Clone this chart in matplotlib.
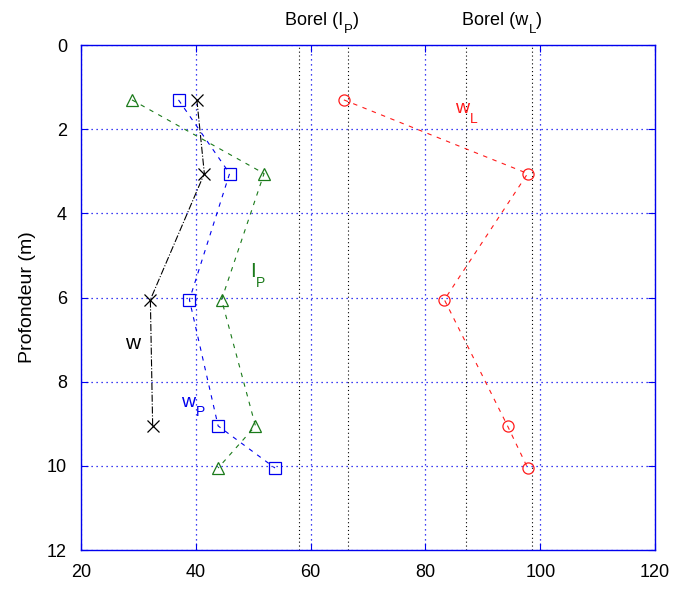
import numpy as np
import matplotlib.pyplot as plt

plt.rcParams['font.family'] = ['Liberation Sans', 'DejaVu Sans']

# profondeurs des prélèvements (m)
prof = [1.3, 3.05, 6.05, 9.05, 10.05]
prof_w = [1.3, 3.05, 6.05, 9.05]

w = [40.2, 41.5, 32.1, 32.5]            # teneur en eau naturelle
wP = [37.0, 45.9, 38.9, 43.9, 53.8]     # limite de plasticité
IP = [28.9, 51.9, 44.5, 50.4, 43.9]     # indice de plasticité
wL = [65.8, 97.8, 83.3, 94.3, 97.8]     # limite de liquidité

# fourchettes de Borel
borel_IP = [58.0, 66.6]
borel_wL = [87.1, 98.5]

bleu = '#0000ee'
vert = '#1a7a1a'
rouge = '#ff1a1a'
DPI = 100

fig = plt.figure(figsize=(6.74, 5.95), dpi=DPI)
ax = fig.add_axes([0.120, 0.0756, 0.852, 0.8484])
renderer = fig.canvas.get_renderer()


def texte_indice(x, y, base, sub, suite='', taille=13, taille_sub=9,
                 chute=6.0, couleur='black', tr=None):
    # texte avec un indice bien descendu, à la manière des vieux tracés
    if tr is None:
        tr = ax.transData
    t = ax.text(x, y, base, transform=tr, fontsize=taille, color=couleur,
                ha='left', va='baseline')
    larg = t.get_window_extent(renderer).width * 72 / DPI
    s = ax.annotate(sub, xy=(x, y), xycoords=tr, xytext=(larg + 0.5, -chute),
                    textcoords='offset points', fontsize=taille_sub,
                    color=couleur, ha='left', va='baseline')
    if suite:
        larg_s = s.get_window_extent(renderer).width * 72 / DPI
        ax.annotate(suite, xy=(x, y), xycoords=tr,
                    xytext=(larg + 0.5 + larg_s, 0), textcoords='offset points',
                    fontsize=taille, color=couleur, ha='left', va='baseline')


for xb in borel_IP + borel_wL:
    ax.axvline(xb, color='black', linestyle=(0, (1, 2.5)), linewidth=0.8, zorder=1)

ax.plot(w, prof_w, color='black', linestyle='-.', linewidth=0.8, marker='x',
        markersize=8, markeredgewidth=0.9, zorder=3)
ax.plot(wP, prof, color=bleu, linestyle=(0, (4, 5)), linewidth=0.8, marker='s',
        markersize=9, markerfacecolor='none', markeredgewidth=0.9, zorder=3)
ax.plot(IP, prof, color=vert, linestyle=(0, (4, 5)), linewidth=0.8, marker='^',
        markersize=9, markerfacecolor='none', markeredgewidth=0.9, zorder=3)
ax.plot(wL, prof, color=rouge, linestyle=(0, (4, 5)), linewidth=0.8, marker='o',
        markersize=8, markerfacecolor='none', markeredgewidth=0.9, zorder=3)

ax.set_xlim(20, 120)
ax.set_ylim(12, 0)

ax.text(27.7, 7.21, 'w', color='black', fontsize=15, ha='left', va='baseline')
texte_indice(37.4, 8.59, 'w', 'P', taille=14, taille_sub=10, chute=7, couleur=bleu)
texte_indice(49.4, 5.51, 'I', 'P', taille=15, taille_sub=10, chute=7, couleur=vert)
texte_indice(85.1, 1.62, 'w', 'L', taille=14, taille_sub=10, chute=7, couleur=rouge)

tr_haut = ax.get_xaxis_transform()
texte_indice(55.5, 1.04, 'Borel (I', 'P', ')', taille=13, taille_sub=9.5,
             chute=6, tr=tr_haut)
texte_indice(86.3, 1.04, 'Borel (w', 'L', ')', taille=13, taille_sub=9.5,
             chute=6, tr=tr_haut)

ax.set_xticks([20, 40, 60, 80, 100, 120])
ax.set_yticks([0, 2, 4, 6, 8, 10, 12])
ax.grid(True, color=bleu, linestyle=(0, (1, 3)), linewidth=0.9)
ax.set_axisbelow(True)
ax.tick_params(direction='in', top=True, right=True, color=bleu, length=5,
               labelsize=13, pad=10)
for sp in ax.spines.values():
    sp.set_color(bleu)
    sp.set_linewidth(1.0)
ax.set_ylabel('Profondeur (m)', fontsize=14, labelpad=8)

fig.savefig('out.png', dpi=DPI)
